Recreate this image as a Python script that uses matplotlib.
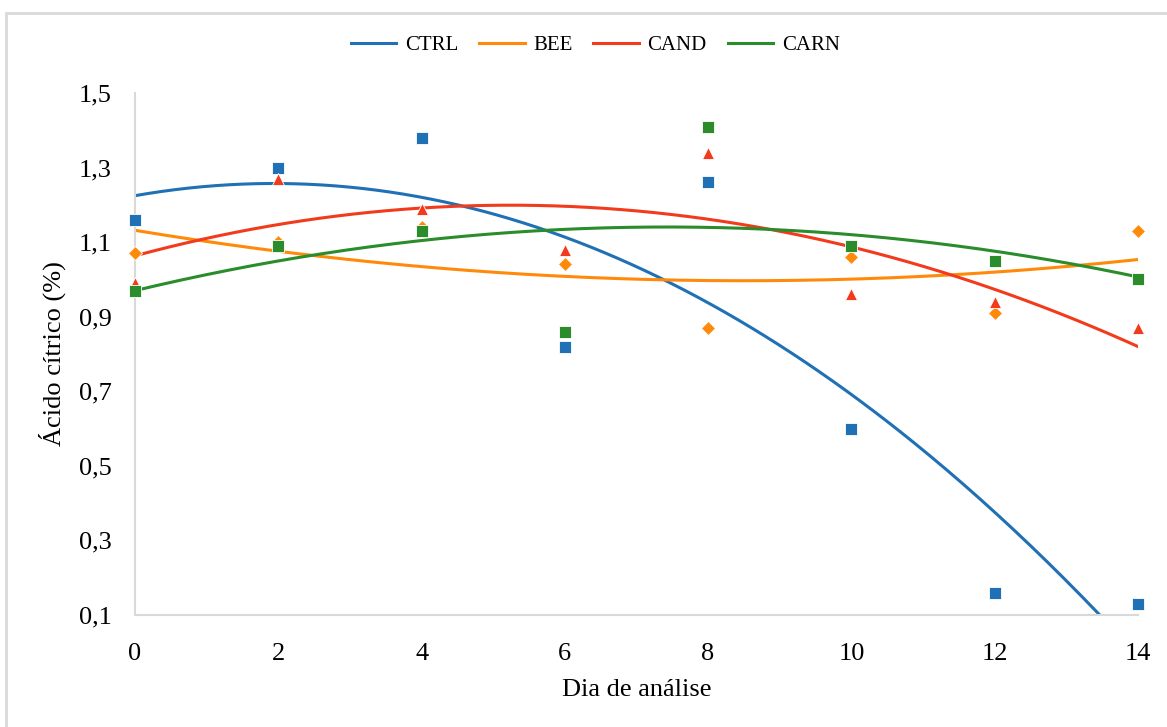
import numpy as np
import matplotlib.pyplot as plt
from matplotlib.patches import Rectangle

plt.rcParams['font.family'] = ['Liberation Serif', 'DejaVu Serif']

dias = [0, 2, 4, 6, 8, 10, 12, 14]
ctrl = [1.16, 1.30, 1.38, 0.82, 1.26, 0.60, 0.16, 0.13]
bee = [1.07, 1.10, 1.14, 1.04, 0.87, 1.06, 0.91, 1.13]
cand = [0.99, 1.27, 1.19, 1.08, 1.34, 0.96, 0.94, 0.87]
carn = [0.97, 1.09, 1.13, 0.86, 1.41, 1.09, 1.05, 1.00]

series = [
    ("CTRL", ctrl, "#1f70b5", "s", 9),
    ("BEE", bee, "#ff8a0a", "D", 7),
    ("CAND", cand, "#f23b1c", "^", 9),
    ("CARN", carn, "#2a8c2a", "s", 9),
]

fig = plt.figure(figsize=(11.67, 7.27), dpi=100)
ax = fig.add_axes([0.1157, 0.1541, 0.8594, 0.718])

x = np.array(dias)
xs = np.linspace(0, 14, 300)
for name, vals, color, mk, ms in series:
    # polynomial trendline (order 2), like Excel
    coef = np.polyfit(x, vals, 2)
    ax.plot(xs, np.polyval(coef, xs), color=color, lw=2.2, label=name, zorder=2)
    ax.plot(x, vals, linestyle='none', marker=mk, markersize=ms,
            color=color, markeredgecolor='white', markeredgewidth=0.6,
            clip_on=False, zorder=3)

ax.set_xlim(0, 14)
ax.set_ylim(0.1, 1.5)
ax.set_xticks(range(0, 15, 2))
ax.set_yticks(np.arange(0.1, 1.51, 0.2))
ax.set_yticklabels([f"{v:.1f}".replace('.', ',') for v in np.arange(0.1, 1.51, 0.2)])
ax.tick_params(length=0, labelsize=19, colors='black')
ax.tick_params(axis='y', pad=17)
ax.tick_params(axis='x', pad=20)

for s in ['top', 'right']:
    ax.spines[s].set_visible(False)
for s in ['left', 'bottom']:
    ax.spines[s].set_color('#d9d9d9')
    ax.spines[s].set_linewidth(1.5)

ax.set_xlabel("Dia de análise", fontsize=19, labelpad=10)
ax.set_ylabel("Ácido cítrico (%)", fontsize=19, labelpad=9)

leg = fig.legend(loc='center', bbox_to_anchor=(0.51, 0.938), ncol=4,
                 frameon=False, fontsize=15, handlelength=2.2,
                 handletextpad=0.4, columnspacing=1.0)

fig.patches.append(Rectangle((6 / 1167, -0.05), 1.2, 1.05 - 13 / 727,
                             transform=fig.transFigure, fill=False,
                             edgecolor='#d9d9d9', lw=2))

fig.savefig("out.png", dpi=100)
